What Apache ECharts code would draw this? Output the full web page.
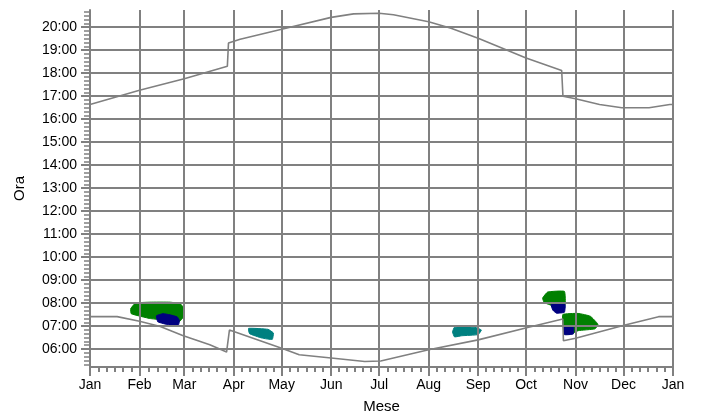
<!DOCTYPE html>
<html><head><meta charset="utf-8">
<script src="https://cdn.jsdelivr.net/npm/echarts@6/dist/echarts.min.js"></script>
<style>html,body{margin:0;padding:0;background:#fff}#c{width:702px;height:419px}</style>
</head><body><div id="c"></div>
<script>
// Axis ticks / labels
const monthStarts = [0, 31, 59, 90, 120, 151, 181, 212, 243, 273, 304, 334, 365];
const monthLabels = ['Jan','Feb','Mar','Apr','May','Jun','Jul','Aug','Sep','Oct','Nov','Dec','Jan'];
const hourTicks = [6, 7, 8, 9, 10, 11, 12, 13, 14, 15, 16, 17, 18, 19, 20];
const hourLabels = ['06:00','07:00','08:00','09:00','10:00','11:00','12:00','13:00','14:00','15:00','16:00','17:00','18:00','19:00','20:00'];

// Sunset curve (day of year, hour)
const sunsetDays  = [0, 31, 59, 86, 86.7, 94, 120, 151, 165, 181, 190, 212, 226, 243, 273, 295.3, 296.1, 304, 319, 333, 350, 363, 365];
const sunsetHours = [16.64, 17.26, 17.76, 18.30, 19.31, 19.48, 19.91, 20.43, 20.58, 20.61, 20.54, 20.24, 19.96, 19.52, 18.66, 18.12, 17.00, 16.89, 16.64, 16.50, 16.50, 16.64, 16.64];

// Sunrise curve (day of year, hour)
const sunriseDays  = [0, 17, 31, 44, 58, 75, 85.5, 87.3, 90, 120, 131, 151, 172, 182, 212, 243, 274, 296, 296.4, 304, 335, 356, 365];
const sunriseHours = [7.41, 7.41, 7.21, 6.98, 6.59, 6.19, 5.87, 6.83, 6.76, 6.04, 5.75, 5.61, 5.46, 5.48, 5.97, 6.40, 6.94, 7.31, 6.36, 6.47, 7.05, 7.41, 7.41];

// Observation regions (day of year, hour)
const greenRegions = [
  [[25.5,7.76],[28.5,8.00],[37.5,8.04],[50.1,8.04],[56.6,7.97],[58.4,7.80],[58.4,7.40],[56.0,7.20],[43.8,7.28],[37.5,7.33],[31.3,7.43],[25.8,7.54]],
  [[283.4,8.22],[286.5,8.48],[297.0,8.51],[297.4,7.90],[292.1,7.84],[284.4,8.02]],
  [[296.0,7.50],[305.6,7.55],[313.2,7.43],[318.0,7.08],[316.2,6.88],[305.6,6.80],[301.4,6.66],[297.0,6.66]]
];
const blueRegions = [
  [[41.6,7.45],[45.7,7.54],[50.1,7.49],[54.6,7.40],[56.0,7.24],[55.3,7.04],[51.3,7.02],[46.9,7.09],[42.4,7.19]],
  [[288.7,7.94],[297.4,7.94],[297.0,7.60],[292.1,7.56],[289.8,7.69]],
  [[296.6,7.00],[302.6,7.00],[302.6,6.66],[297.0,6.63]]
];
const tealRegions = [
  [[99.3,6.90],[111.4,6.86],[114.8,6.70],[114.1,6.42],[107.6,6.48],[99.9,6.67]],
  [[228.2,6.95],[240.9,6.95],[245.0,6.83],[243.0,6.63],[232.8,6.58],[228.2,6.53],[227.0,6.74]]
];

// minor tick positions
const minorDayTicks = [];
for (let m = 0; m < 12; m++) {
  const a = monthStarts[m], b = monthStarts[m + 1];
  const n = (b - a) >= 30 ? 6 : 5;
  for (let k = 1; k < n; k++) minorDayTicks.push(a + (b - a) * k / n);
}
const minorHourTicks = [];
for (let t = 5 * 6 + 2; t <= 20 * 6 + 4; t++) if (t % 6 !== 0) minorHourTicks.push(t / 6);

const GRAY = '#808080';
const FONT = 'Liberation Sans, Arial, sans-serif';

function regionSeries(list, color) {
  return {
    type: 'custom', z: -1, silent: true, xAxisIndex: 0, yAxisIndex: 0,
    data: list.map(p => p[0]),
    renderItem: (params, api) => {
      const pts = list[params.dataIndex].map(p => api.coord(p));
      return { type: 'polygon', shape: { points: pts, smooth: 0.12 }, style: { fill: color, stroke: color, lineWidth: 1 } };
    }
  };
}

const chart = echarts.init(document.getElementById('c'), null, { renderer: 'canvas' });
chart.setOption({
  animation: false,
  backgroundColor: '#fff',
  grid: { left: 90, right: 29, top: 10, bottom: 50, containLabel: false },
  xAxis: [{
    type: 'value', min: 0, max: 365, position: 'bottom',
    name: 'Mese', nameLocation: 'middle', nameGap: 32,
    nameTextStyle: { fontFamily: FONT, fontSize: 15, color: '#000' },
    axisLine: { lineStyle: { color: GRAY, width: 2 } },
    axisTick: { customValues: monthStarts, length: 9, lineStyle: { color: GRAY, width: 2 } },
    axisLabel: { customValues: monthStarts, margin: 11, fontFamily: FONT, fontSize: 14, color: '#000',
      formatter: v => monthLabels[monthStarts.indexOf(v)] },
    splitLine: { show: true, lineStyle: { color: GRAY, width: 2 } }
  }, {
    type: 'value', min: 0, max: 365, position: 'bottom',
    axisLine: { show: false },
    axisTick: { customValues: minorDayTicks, length: 5, lineStyle: { color: GRAY, width: 2 } },
    axisLabel: { show: false },
    splitLine: { show: false }
  }],
  yAxis: [{
    type: 'value', min: 5.22, max: 20.75, position: 'left',
    name: 'Ora', nameLocation: 'middle', nameGap: 63,
    nameTextStyle: { fontFamily: FONT, fontSize: 15, color: '#000' },
    axisLine: { show: true, lineStyle: { color: GRAY, width: 2 } },
    axisTick: { show: true, customValues: hourTicks, length: 9, lineStyle: { color: GRAY, width: 2 } },
    axisLabel: { customValues: hourTicks, margin: 13, fontFamily: FONT, fontSize: 14, color: '#000',
      formatter: v => hourLabels[hourTicks.indexOf(v)] },
    splitLine: { show: true, lineStyle: { color: GRAY, width: 2 } }
  }, {
    type: 'value', min: 5.22, max: 20.75, position: 'left',
    axisLine: { show: false },
    axisTick: { show: true, customValues: minorHourTicks, length: 6, lineStyle: { color: GRAY, width: 1.5 } },
    axisLabel: { show: false },
    splitLine: { show: false }
  }],
  series: [
    regionSeries(greenRegions, '#008000'),
    regionSeries(blueRegions, '#000080'),
    regionSeries(tealRegions, '#008080'),
    {
      type: 'line', xAxisIndex: 0, yAxisIndex: 0, showSymbol: false, silent: true,
      lineStyle: { color: GRAY, width: 1.6 },
      data: sunsetDays.map((d, i) => [d, sunsetHours[i]])
    },
    {
      type: 'line', xAxisIndex: 0, yAxisIndex: 0, showSymbol: false, silent: true,
      lineStyle: { color: GRAY, width: 1.6 },
      data: sunriseDays.map((d, i) => [d, sunriseHours[i]])
    }
  ]
});
</script>
</body></html>
